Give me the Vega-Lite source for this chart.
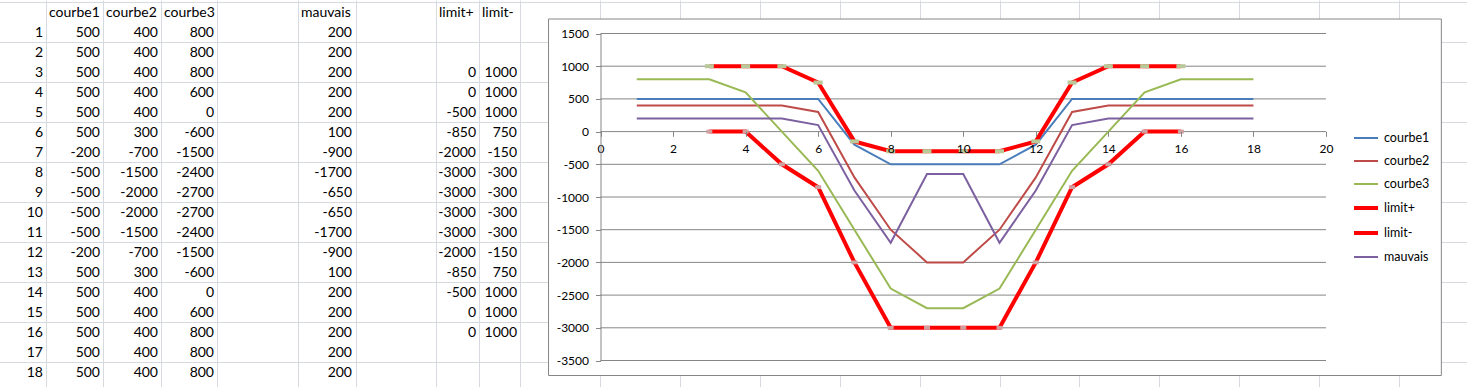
{
  "$schema": "https://vega.github.io/schema/vega-lite/v6.json",
  "width": 1467,
  "height": 387,
  "padding": 0,
  "autosize": {"type": "none"},
  "background": "white",
  "config": {"view": {"stroke": null}, "font": "Lato", "axis": {"labelOverlap": false, "labelFlush": false}},
  "datasets": {
    "d": [
      {"n": 1, "courbe1": 500, "courbe2": 400, "courbe3": 800, "mauvais": 200, "limit+": null, "limit-": null},
      {"n": 2, "courbe1": 500, "courbe2": 400, "courbe3": 800, "mauvais": 200, "limit+": null, "limit-": null},
      {"n": 3, "courbe1": 500, "courbe2": 400, "courbe3": 800, "mauvais": 200, "limit+": 0, "limit-": 1000},
      {"n": 4, "courbe1": 500, "courbe2": 400, "courbe3": 600, "mauvais": 200, "limit+": 0, "limit-": 1000},
      {"n": 5, "courbe1": 500, "courbe2": 400, "courbe3": 0, "mauvais": 200, "limit+": -500, "limit-": 1000},
      {"n": 6, "courbe1": 500, "courbe2": 300, "courbe3": -600, "mauvais": 100, "limit+": -850, "limit-": 750},
      {"n": 7, "courbe1": -200, "courbe2": -700, "courbe3": -1500, "mauvais": -900, "limit+": -2000, "limit-": -150},
      {"n": 8, "courbe1": -500, "courbe2": -1500, "courbe3": -2400, "mauvais": -1700, "limit+": -3000, "limit-": -300},
      {"n": 9, "courbe1": -500, "courbe2": -2000, "courbe3": -2700, "mauvais": -650, "limit+": -3000, "limit-": -300},
      {"n": 10, "courbe1": -500, "courbe2": -2000, "courbe3": -2700, "mauvais": -650, "limit+": -3000, "limit-": -300},
      {"n": 11, "courbe1": -500, "courbe2": -1500, "courbe3": -2400, "mauvais": -1700, "limit+": -3000, "limit-": -300},
      {"n": 12, "courbe1": -200, "courbe2": -700, "courbe3": -1500, "mauvais": -900, "limit+": -2000, "limit-": -150},
      {"n": 13, "courbe1": 500, "courbe2": 300, "courbe3": -600, "mauvais": 100, "limit+": -850, "limit-": 750},
      {"n": 14, "courbe1": 500, "courbe2": 400, "courbe3": 0, "mauvais": 200, "limit+": -500, "limit-": 1000},
      {"n": 15, "courbe1": 500, "courbe2": 400, "courbe3": 600, "mauvais": 200, "limit+": 0, "limit-": 1000},
      {"n": 16, "courbe1": 500, "courbe2": 400, "courbe3": 800, "mauvais": 200, "limit+": 0, "limit-": 1000},
      {"n": 17, "courbe1": 500, "courbe2": 400, "courbe3": 800, "mauvais": 200, "limit+": null, "limit-": null},
      {"n": 18, "courbe1": 500, "courbe2": 400, "courbe3": 800, "mauvais": 200, "limit+": null, "limit-": null}
    ],
    "grid": [
      {"g": 1500}, {"g": 1000}, {"g": 500}, {"g": 0}, {"g": -500}, {"g": -1000},
      {"g": -1500}, {"g": -2000}, {"g": -2500}, {"g": -3000}, {"g": -3500}
    ]
  },
  "resolve": {"scale": {"x": "independent", "y": "independent"}, "axis": {"x": "independent", "y": "independent"}},
  "layer": [
    {
      "layer": [
        {
          "data": {"name": "d"},
          "mark": {"type": "text", "align": "right", "dx": -3, "dy": 1, "font": "Lato", "fontSize": 14, "color": "black"},
          "encoding": {
            "x": {"datum": 1, "type": "quantitative",
              "scale": {"domain": [0,1,2,3,4,5,6,7,8,9,10,11,12,13,14,15,16,17,18,19,20,21], "range": [0,46,103,161,217,298,356,436,479,520,600,680,760,840,920,1000,1079,1159,1239,1319,1399,1479], "nice": false, "zero": false},
              "axis": {"orient": "top", "values": [1,2,3,4,5,6,7,8,9,10,11,12,13,14,15,16,17,18,19,20], "grid": true, "gridColor": "#D6DAE0", "labels": false, "ticks": false, "domain": false, "title": null}},
            "y": {"field": "n", "type": "quantitative",
              "scale": {"domain": [-0.585, 18.765], "range": [0, 387], "nice": false, "zero": false},
              "axis": {"orient": "right", "values": [-0.5,0.5,1.5,2.5,3.5,4.5,5.5,6.5,7.5,8.5,9.5,10.5,11.5,12.5,13.5,14.5,15.5,16.5,17.5,18.5], "grid": true, "gridColor": "#D6DAE0", "labels": false, "ticks": false, "domain": false, "title": null}},
            "text": {"field": "n", "type": "nominal"}
          }
        },
        {
          "data": {"name": "d"},
          "mark": {"type": "text", "align": "right", "dx": -3, "dy": 1, "font": "Lato", "fontSize": 14, "color": "black"},
          "encoding": {"x": {"datum": 2, "type": "quantitative"}, "y": {"field": "n", "type": "quantitative"}, "text": {"field": "courbe1", "type": "nominal"}}
        },
        {
          "data": {"name": "d"},
          "mark": {"type": "text", "align": "right", "dx": -3, "dy": 1, "font": "Lato", "fontSize": 14, "color": "black"},
          "encoding": {"x": {"datum": 3, "type": "quantitative"}, "y": {"field": "n", "type": "quantitative"}, "text": {"field": "courbe2", "type": "nominal"}}
        },
        {
          "data": {"name": "d"},
          "mark": {"type": "text", "align": "right", "dx": -3, "dy": 1, "font": "Lato", "fontSize": 14, "color": "black"},
          "encoding": {"x": {"datum": 4, "type": "quantitative"}, "y": {"field": "n", "type": "quantitative"}, "text": {"field": "courbe3", "type": "nominal"}}
        },
        {
          "data": {"name": "d"},
          "mark": {"type": "text", "align": "right", "dx": -4, "dy": 1, "font": "Lato", "fontSize": 14, "color": "black"},
          "encoding": {"x": {"datum": 6, "type": "quantitative"}, "y": {"field": "n", "type": "quantitative"}, "text": {"field": "mauvais", "type": "nominal"}}
        },
        {
          "data": {"name": "d"},
          "transform": [{"filter": "isValid(datum['limit+'])"}],
          "mark": {"type": "text", "align": "right", "dx": -3, "dy": 1, "font": "Lato", "fontSize": 14, "color": "black"},
          "encoding": {"x": {"datum": 8, "type": "quantitative"}, "y": {"field": "n", "type": "quantitative"}, "text": {"field": "limit+", "type": "nominal"}}
        },
        {
          "data": {"name": "d"},
          "transform": [{"filter": "isValid(datum['limit-'])"}],
          "mark": {"type": "text", "align": "right", "dx": -3, "dy": 1, "font": "Lato", "fontSize": 14, "color": "black"},
          "encoding": {"x": {"datum": 9, "type": "quantitative"}, "y": {"field": "n", "type": "quantitative"}, "text": {"field": "limit-", "type": "nominal"}}
        },
        {
          "data": {"values": [{}]},
          "mark": {"type": "text", "align": "left", "dx": 3, "dy": 1, "font": "Lato", "fontSize": 14, "color": "black"},
          "encoding": {"x": {"datum": 1, "type": "quantitative"}, "y": {"datum": 0, "type": "quantitative"}, "text": {"value": "courbe1"}}
        },
        {
          "data": {"values": [{}]},
          "mark": {"type": "text", "align": "left", "dx": 3, "dy": 1, "font": "Lato", "fontSize": 14, "color": "black"},
          "encoding": {"x": {"datum": 2, "type": "quantitative"}, "y": {"datum": 0, "type": "quantitative"}, "text": {"value": "courbe2"}}
        },
        {
          "data": {"values": [{}]},
          "mark": {"type": "text", "align": "left", "dx": 3, "dy": 1, "font": "Lato", "fontSize": 14, "color": "black"},
          "encoding": {"x": {"datum": 3, "type": "quantitative"}, "y": {"datum": 0, "type": "quantitative"}, "text": {"value": "courbe3"}}
        },
        {
          "data": {"values": [{}]},
          "mark": {"type": "text", "align": "left", "dx": 3, "dy": 1, "font": "Lato", "fontSize": 14, "color": "black"},
          "encoding": {"x": {"datum": 5, "type": "quantitative"}, "y": {"datum": 0, "type": "quantitative"}, "text": {"value": "mauvais"}}
        },
        {
          "data": {"values": [{}]},
          "mark": {"type": "text", "align": "left", "dx": 3, "dy": 1, "font": "Lato", "fontSize": 14, "color": "black"},
          "encoding": {"x": {"datum": 7, "type": "quantitative"}, "y": {"datum": 0, "type": "quantitative"}, "text": {"value": "limit+"}}
        },
        {
          "data": {"values": [{}]},
          "mark": {"type": "text", "align": "left", "dx": 3, "dy": 1, "font": "Lato", "fontSize": 14, "color": "black"},
          "encoding": {"x": {"datum": 8, "type": "quantitative"}, "y": {"datum": 0, "type": "quantitative"}, "text": {"value": "limit-"}}
        }
      ]
    },
    {
      "layer": [
        {
          "data": {"values": [{}]},
          "mark": {"type": "rect", "fill": "white", "stroke": "#868686", "strokeWidth": 1},
          "encoding": {
            "x": {"datum": -1.433, "type": "quantitative"},
            "x2": {"datum": 23.18},
            "y": {"datum": 1721.7, "type": "quantitative"},
            "y2": {"datum": -3729.4}
          }
        },
        {
          "data": {"name": "grid"},
          "mark": {"type": "rule", "color": "#868686", "strokeWidth": 1},
          "encoding": {
            "x": {"datum": 0, "type": "quantitative"},
            "x2": {"datum": 20},
            "y": {"field": "g", "type": "quantitative"}
          }
        },
        {
          "data": {"name": "d"},
          "transform": [
            {"fold": ["courbe1", "courbe2", "courbe3", "limit+", "limit-", "mauvais"]},
            {"filter": "isValid(datum.value)"}
          ],
          "mark": {"type": "line"},
          "encoding": {
            "x": {"field": "n", "type": "quantitative",
              "scale": {"domain": [0, 20], "range": [600.5, 1326], "nice": false, "zero": false},
              "axis": {"orient": "bottom", "offset": -255.7, "tickCount": 10, "domain": false, "grid": false, "ticks": true, "tickSize": 5, "tickColor": "#868686", "labelPadding": 7, "labelFont": "Lato", "labelFontSize": 12, "labelColor": "black", "title": null, "zindex": 1, "labelExpr": "'' + datum.value", "labelFlush": false, "labelOverlap": false}},
            "y": {"field": "value", "type": "quantitative",
              "scale": {"domain": [-3500, 1500], "range": [360.5, 33.5], "nice": false, "zero": false},
              "axis": {"orient": "left", "offset": -600.5, "tickCount": 10, "domain": true, "domainColor": "#868686", "grid": false, "ticks": true, "tickSize": 5, "tickColor": "#868686", "labelPadding": 7, "labelFont": "Lato", "labelFontSize": 12, "labelColor": "black", "title": null, "zindex": 1, "labelExpr": "'' + datum.value", "labelFlush": false, "labelOverlap": false, "labelBound": false}},
            "color": {"field": "key", "type": "nominal",
              "scale": {"domain": ["courbe1", "courbe2", "courbe3", "limit+", "limit-", "mauvais"], "range": ["#4A7EBB", "#BE4B48", "#98B954", "#FF0000", "#FF0000", "#7D60A0"]},
              "legend": {"orient": "none", "legendX": 1352, "legendY": 125, "title": null, "symbolType": "stroke", "symbolSize": 576, "labelFont": "Lato", "labelFontSize": 12.5, "labelColor": "black", "labelOffset": 4, "rowPadding": 3}},
            "strokeWidth": {"field": "key", "type": "nominal",
              "scale": {"type": "ordinal", "domain": ["courbe1", "courbe2", "courbe3", "limit+", "limit-", "mauvais"], "range": [2, 2, 2, 4, 4, 2]},
              "legend": {"orient": "none", "legendX": 1352, "legendY": 125, "title": null, "symbolType": "stroke", "symbolSize": 576, "labelFont": "Lato", "labelFontSize": 12.5, "labelColor": "black", "labelOffset": 4, "rowPadding": 3}}
          }
        },
        {
          "data": {"name": "d"},
          "transform": [{"filter": "isValid(datum['limit-'])"}],
          "mark": {"type": "point", "shape": "M-1,-0.45H1V0.45H-1Z", "filled": true, "size": 81, "color": "#B9C99A", "opacity": 1},
          "encoding": {
            "x": {"field": "n", "type": "quantitative"},
            "y": {"field": "limit-", "type": "quantitative"}
          }
        },
        {
          "data": {"name": "d"},
          "transform": [{"filter": "isValid(datum['limit+'])"}],
          "mark": {"type": "point", "shape": "M-1,-0.65H1V0.65H-1Z", "filled": true, "size": 36, "color": "#D0A0A0", "opacity": 1},
          "encoding": {
            "x": {"field": "n", "type": "quantitative"},
            "y": {"field": "limit+", "type": "quantitative"}
          }
        }
      ]
    }
  ]
}
